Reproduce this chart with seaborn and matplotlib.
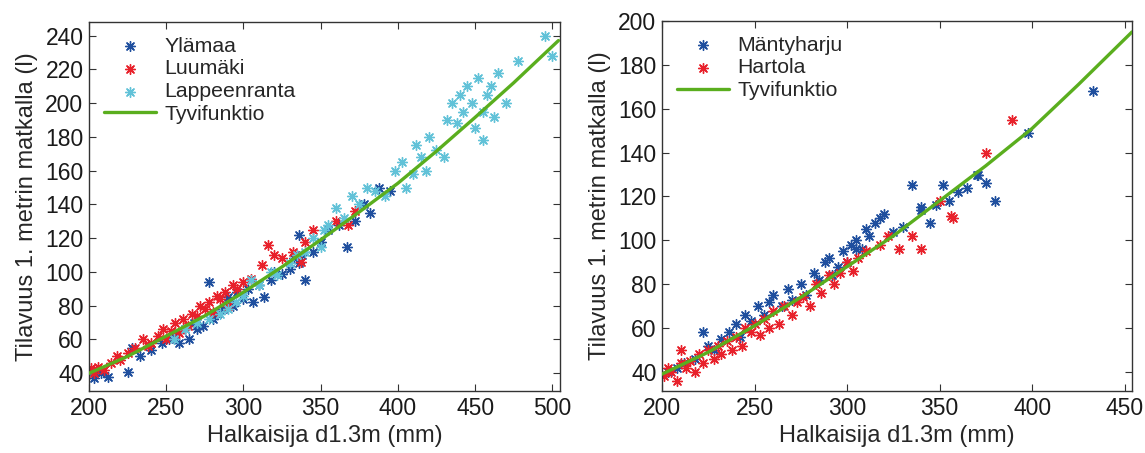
import matplotlib
matplotlib.use("Agg")
import matplotlib.pyplot as plt
import seaborn as sns
import pandas as pd

# ---------------- data: left panel ----------------
yl_d = [203,205,208,212,225,228,233,240,247,252,255,258,262,265,268,270,274,278,280,283,287,290,293,296,300,303,306,310,313,318,320,325,330,333,336,338,340,345,350,355,362,367,372,378,382,388,395,336]
yl_v = [37,42,40,38,41,55,50,54,58,60,63,58,66,60,70,66,68,94,72,75,78,85,80,88,84,90,82,92,85,95,100,99,102,108,105,110,95,112,118,125,128,115,130,140,135,150,148,122]

lu_d = [201,203,206,210,214,218,220,225,230,235,238,240,245,248,250,253,256,258,261,264,267,270,272,275,278,280,283,285,288,290,293,296,300,305,312,316,320,325,332,337,340,345,360,368,372]
lu_v = [43,40,44,42,46,50,48,52,55,60,56,58,62,66,60,65,70,64,72,68,75,74,80,78,82,76,86,84,88,80,92,90,94,96,104,116,110,108,112,106,118,125,130,128,136]

la_d = [255,262,270,278,285,290,295,300,305,310,318,322,330,335,340,345,350,352,355,360,365,370,375,380,385,392,398,403,405,410,412,415,418,420,425,430,432,435,438,440,442,445,448,450,452,455,458,460,462,465,470,478,495,500,455]
la_v = [60,66,70,72,75,78,82,86,95,92,100,98,105,110,112,120,115,125,128,138,132,145,140,150,148,145,160,165,150,158,175,168,160,180,172,168,190,200,188,205,195,210,200,185,215,178,205,210,192,218,200,225,240,228,195]

fun_l_d = [200,225,250,275,300,325,350,375,400,425,450,475,504]
fun_l_v = [40,50,62,74,88,103,119,135.5,152.5,171.5,191.5,212,237]

# ---------------- data: right panel ----------------
ma_d = [203,208,212,218,222,225,228,232,236,240,242,245,248,252,255,258,260,265,268,270,275,278,282,285,288,290,292,295,298,300,302,305,308,310,312,315,318,320,325,330,335,340,345,348,352,355,360,365,370,375,380,398,433,371,340,305]
ma_v = [40,42,44,46,58,52,50,55,58,62,56,66,63,70,66,72,75,70,78,73,80,75,85,82,90,92,84,88,95,90,98,100,96,105,102,108,110,112,104,106,125,114,108,116,125,118,122,124,130,126,118,149,168,130,115,96]

ha_d = [201,203,205,208,210,213,215,218,220,222,225,228,230,232,235,238,240,243,245,248,250,253,255,258,260,263,266,270,273,276,280,283,286,290,293,296,300,303,306,310,318,322,328,335,340,356,357,350,389,375,210]
ha_v = [38,42,40,36,44,42,45,40,48,44,50,46,52,48,54,50,56,52,60,58,62,57,64,60,68,62,70,66,72,74,70,80,76,84,80,85,90,86,92,95,98,102,96,102,96,111,110,118,155,140,50]

fun_r_d = [200,225,250,275,300,325,350,375,400,425,454]
fun_r_v = [39,49,61,74,88,102,118,134,151,171,195]

C_BLUE = "#1f4f9e"
C_RED = "#e8212b"
C_CYAN = "#62c2d8"
C_GREEN = "#5aae1e"

sns.set_theme(style="white")
plt.rcParams["font.family"] = ["Liberation Sans", "DejaVu Sans"]

fig = plt.figure(figsize=(11.45, 4.53), dpi=100)
axL = fig.add_axes([89/1145, 1-391/453, (560-89)/1145, (391-22)/453])
axR = fig.add_axes([662/1145, 1-391/453, (1132-662)/1145, (391-21)/453])

AST = (8, 2, 0)

def scat(ax, d, v, color, label):
    df = pd.DataFrame({"d": d, "v": v})
    sns.scatterplot(data=df, x="d", y="v", ax=ax, marker=AST, s=50,
                    color=color, edgecolor=color, linewidth=1.0, label=label, zorder=2)

def line(ax, d, v, label):
    df = pd.DataFrame({"d": d, "v": v})
    sns.lineplot(data=df, x="d", y="v", ax=ax, color=C_GREEN, linewidth=2.4,
                 label=label, zorder=3, sort=True)

scat(axL, yl_d, yl_v, C_BLUE, "Ylämaa")
scat(axL, lu_d, lu_v, C_RED, "Luumäki")
scat(axL, la_d, la_v, C_CYAN, "Lappeenranta")
line(axL, fun_l_d, fun_l_v, "Tyvifunktio")

scat(axR, ma_d, ma_v, C_BLUE, "Mäntyharju")
scat(axR, ha_d, ha_v, C_RED, "Hartola")
line(axR, fun_r_d, fun_r_v, "Tyvifunktio")

axL.set_xlim(200, 505)
axL.set_ylim(29.5, 248)
axL.set_xticks([200, 250, 300, 350, 400, 450, 500])
axL.set_yticks(list(range(40, 241, 20)))

axR.set_xlim(200, 454)
axR.set_ylim(31.3, 200)
axR.set_xticks([200, 250, 300, 350, 400, 450])
axR.set_yticks(list(range(40, 201, 20)))

for ax in (axL, axR):
    ax.set_xlabel("Halkaisija d1.3m (mm)", fontsize=17, labelpad=4)
    ax.set_ylabel("Tilavuus 1. metrin matkalla (l)", fontsize=17, labelpad=5)
    ax.tick_params(axis="both", which="both", direction="in", length=5, width=0.8,
                   labelsize=16.5, top=True, right=True, bottom=True, left=True,
                   colors="#333333", labelcolor="#1a1a1a", pad=4)
    for sp in ax.spines.values():
        sp.set_visible(True)
        sp.set_color("#333333")
        sp.set_linewidth(1.0)
    ax.legend(loc="upper left", frameon=False, fontsize=15.3,
              handlelength=2.45, handletextpad=0.38, labelspacing=0.17,
              borderaxespad=0.3, bbox_to_anchor=(0.0, 1.0))

fig.savefig("out.png", dpi=100)
